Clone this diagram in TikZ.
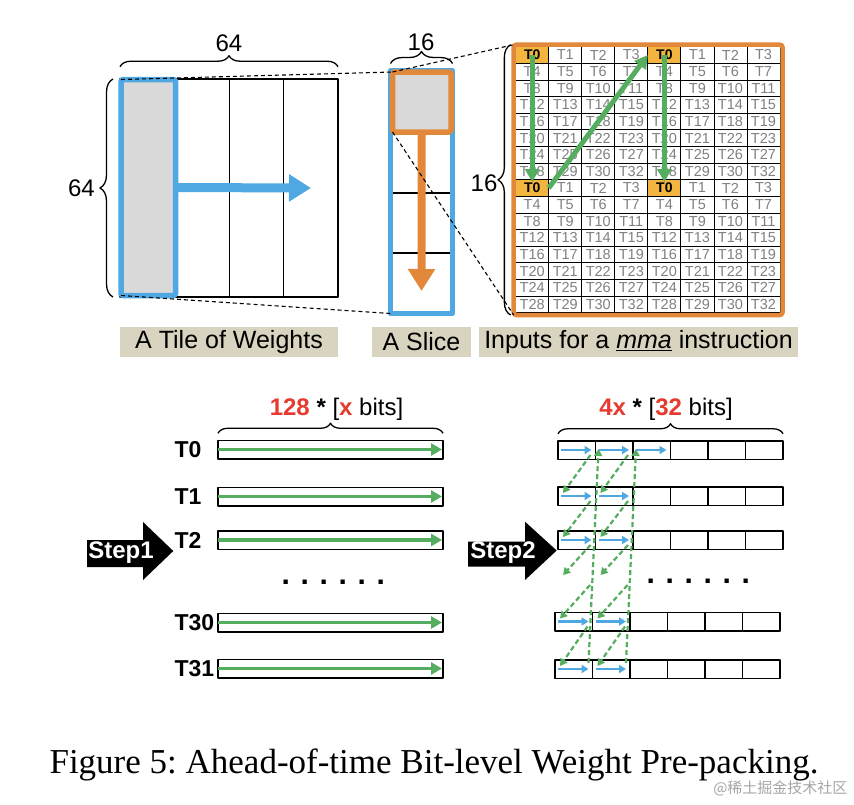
\documentclass[tikz,border=0pt]{standalone}
\usepackage{fontspec}
\setmainfont{Liberation Sans}
\newfontfamily\capfont{Liberation Serif}
\newfontfamily\cjkfont{Noto Sans CJK SC}
\usepackage{tikz}
\usetikzlibrary{arrows.meta,calc}
\usetikzlibrary{decorations.pathreplacing}
\definecolor{tileblue}{HTML}{4FA8E2}
\definecolor{sliceorange}{HTML}{E1883B}
\definecolor{arrgreen}{HTML}{55AD60}
\definecolor{cellgold}{HTML}{F3B540}
\definecolor{labeltan}{HTML}{D8D4BF}
\definecolor{numred}{HTML}{E63B2E}
\definecolor{fillgray}{HTML}{D9D9D9}
\newcommand\fsz[1]{\fontsize{#1}{#1}\selectfont}
\newcommand\dotrow{\fsz{30}\bfseries .\kern10.7pt.\kern10.7pt.\kern10.7pt.\kern10.7pt.\kern10.7pt.}
\tikzset{box/.style={inner sep=0,outer sep=0},
  tanlab/.style={box,fill=labeltan,minimum height=30,font=\fsz{25}},
  gcell/.style={box,draw,line width=0.8,minimum width=33.04,minimum height=16.625,text=black!50,font=\fsz{14.5}},
  brc/.style={decorate,decoration={brace,amplitude=#1},line width=1.3},brc/.default=11pt,
  rowbox/.style={box,draw,line width=1.5,minimum width=225,minimum height=18.5},
  pcell/.style={box,draw,line width=1.5,minimum width=37.5,minimum height=18.5},
  rowlab/.style={anchor=west,font=\fsz{23}\bfseries},
  steplab/.style={text=white,font=\fsz{24}\bfseries}}

\begin{document}
\frenchspacing
\begin{tikzpicture}[x=1pt,y=-1pt,line join=round,font=\fsz{24},
  bigarr/.style={line width=9,-{Triangle[length=22pt,width=26pt]}},
  marr/.style={draw=arrgreen,line width=5,-{Triangle[length=13pt,width=14pt]}},
  garr/.style={draw=arrgreen,line width=3.5,-{Triangle[length=11pt,width=12pt]}},
  barr/.style={draw=tileblue,line width=2.5,-{Triangle[length=7pt,width=8pt]}},
  darr/.style={draw=arrgreen,line width=2.2,dash pattern=on 5pt off 3pt,-{Triangle[length=7pt,width=8pt]}},
  zoomln/.style={draw,line width=1.1,dash pattern=on 4pt off 3pt}]
\fill[white] (0,0) rectangle (854,804);
\useasboundingbox (0,0) rectangle (854,804);

% --- a tile of weights
\node[box,draw,line width=1.3,minimum width=218,minimum height=218] (tile) at (229,188) {};
\foreach \x in {175.5,229.5,283.5} \draw[line width=1.3] (\x,79) -- (\x,297);
\node[box,fill=fillgray,draw=tileblue,line width=5.5,rounded corners=1.5,minimum width=54.5,minimum height=216] (wcol) at (148.25,187.5) {};
\coordinate (wend) at (311,188);
\draw[bigarr,tileblue] (wcol.east) -- (wend);
\draw[brc] ([yshift=12.3pt]tile.north west) -- ([yshift=12.3pt]tile.north east);
\node[anchor=base] (w64) at (229,51.7) {64};
\draw[brc=13pt] ([xshift=-7pt]tile.south west) -- ([xshift=-7pt]tile.north west);
\node[anchor=base] (h64) at (81.5,196.7) {64};

% --- a slice
\foreach \y in {193,253} \draw[line width=1.3] (391,\y) -- (452,\y);
\node[box,draw=tileblue,line width=5,minimum width=62,minimum height=243] (slice) at (421.5,192) {};
\node[box,fill=fillgray,draw=sliceorange,line width=5.5,rounded corners=1.5,minimum width=58.5,minimum height=60] (sq) at (421.75,102) {};
\coordinate (send) at (421.5,291);
\draw[bigarr,sliceorange,line width=8] (sq.south) -- (send);
\draw[brc=12pt] ([yshift=7pt]slice.north west) -- ([yshift=7pt]slice.north east);
\node[anchor=base] (s16) at (421,50) {16};

% --- mma inputs, 16 rows x 8 cols
\foreach \r in {0,...,15}{
  \foreach \c in {0,...,7}{
    \pgfmathtruncatemacro\n{4*mod(\r,8)+mod(\c,4)}
    \ifnum\n=31 \def\n{32}\fi
    \ifnum\n=0
      \node[gcell,fill=cellgold,text=black,font=\fsz{14}\bfseries] (g-\r-\c) at (532.2+33.04*\c,55+16.625*\r) {T\n};
    \else
      \node[gcell] (g-\r-\c) at (532.2+33.04*\c,55+16.625*\r) {T\n};
    \fi
  }
}
\node[box,draw=sliceorange,line width=4.5,rounded corners=2.5,minimum width=268.8,minimum height=270.3] (mma) at (648.1,179.85) {};
\draw[marr,shorten >=6pt] (g-0-0.center) -- (g-8-0.center);
\draw[marr] (g-8-0.east) -- (g-0-4.west);
\draw[marr,shorten >=6pt] (g-0-4.center) -- (g-8-4.center);
\draw[brc=12.7pt] ([xshift=-3pt]mma.south west) -- ([xshift=-3pt]mma.north west);
\node[anchor=base] (m16) at (484,191.7) {16};

% --- zoom lines
\draw[zoomln] (wcol.north west) -- (sq.north west);
\draw[zoomln] (wcol.south west) -- (slice.south west);
\draw[zoomln] (sq.north west) -- (mma.north west);
\draw[zoomln] (sq.south west) -- (mma.south west);

% --- captions of the three parts
\node[tanlab,minimum width=218] (ltile) at (229,342) {A Tile of Weights};
\node[tanlab,minimum width=99] (lslice) at (421.5,342) {A Slice};
\node[tanlab,minimum width=319] (lmma) at (638.5,342) {Inputs for a \underline{\textit{mma}} instruction};

% --- step 1
\node[anchor=base] (hd1) at (336.5,415) {\textcolor{numred}{\textbf{128}} \textbf{*} [\textcolor{numred}{\textbf{x}} bits]};
\foreach \r/\y/\t in {0/449.5/T0,1/496.5/T1,2/540/T2,4/622.5/T30,5/668.5/T31}{
  \node[rowbox] (w-\r) at (330.5,\y) {};
  \node[rowlab] (t-\r) at (171,\y) {\t};
  \draw[garr,shorten >=1pt] (w-\r.west) -- (w-\r.east);
}
\draw[brc=10pt] ([yshift=7pt]w-0.north west) -- ([yshift=7pt]w-0.north east);
\node[anchor=base west] (dots1) at (278,584) {\dotrow};
\fill (87,540) -- (143,540) -- (143,522) -- (173.3,551) -- (143,580) -- (143,567) -- (87,567) -- cycle;
\node[steplab] (st1) at (121,553) {Step1};

% --- step 2
\node[anchor=base] (hd2) at (666,415) {\textcolor{numred}{\textbf{4x}} \textbf{*} [\textcolor{numred}{\textbf{32}} bits]};
\foreach \r/\y/\xl in {0/450/558,1/496/558,2/540/558,4/621.5/555,5/669/555}{
  \foreach \c in {0,...,5}
    \node[pcell] (p-\r-\c) at (\xl+18.75+37.5*\c,\y) {};
}
\draw[brc=10pt] ([yshift=7pt]p-0-0.north west) -- ([yshift=7pt]p-0-5.north east);
\node[anchor=base west] (dots2) at (643,583) {\dotrow};
\foreach \k in {0,1}{
  \pgfmathtruncatemacro\kk{\k+1}
  \coordinate (q-\k-in) at (563+37.5*\k,575);
  \coordinate (q-\k-out) at (590+37.5*\k,585);
  \draw[darr] ($(p-0-\k.east)+(-5,5)$) -- ($(p-1-\k.west)+(5,-3)$);
  \draw[darr] ($(p-1-\k.east)+(-5,5)$) -- ($(p-2-\k.west)+(5,-3)$);
  \draw[darr] ($(p-2-\k.east)+(-5,5)$) -- (q-\k-in);
  \draw[darr] (q-\k-out) -- ($(p-4-\k.west)+(5,-3)$);
  \draw[darr] ($(p-4-\k.east)+(-5,5)$) -- ($(p-5-\k.west)+(5,-3)$);
  \draw[darr] ($(p-5-\k.east)+(-4,-6)$) -- ($(p-0-\kk.west)+(3,-1)$);
}
\foreach \r/\n in {0/2,1/1,2/1,4/1,5/1}
  \foreach \c in {0,...,\n}
    \draw[barr] ($(p-\r-\c.west)+(3,0)$) -- ($(p-\r-\c.east)+(-4,0)$);
\fill (468,541.7) -- (525,541.7) -- (525,521.7) -- (556.7,550.5) -- (525,580) -- (525,566.7) -- (468,566.7) -- cycle;
\node[steplab] (st2) at (503,553) {Step2};

% --- figure caption
\node[font=\capfont\fsz{35}] (cap) at (434,765) {Figure 5: Ahead-of-time Bit-level Weight Pre-packing.};
\node[anchor=east,font=\cjkfont\fsz{15},text=black!35] (wm) at (851,788) {@稀土掘金技术社区};
\end{tikzpicture}
\end{document}
